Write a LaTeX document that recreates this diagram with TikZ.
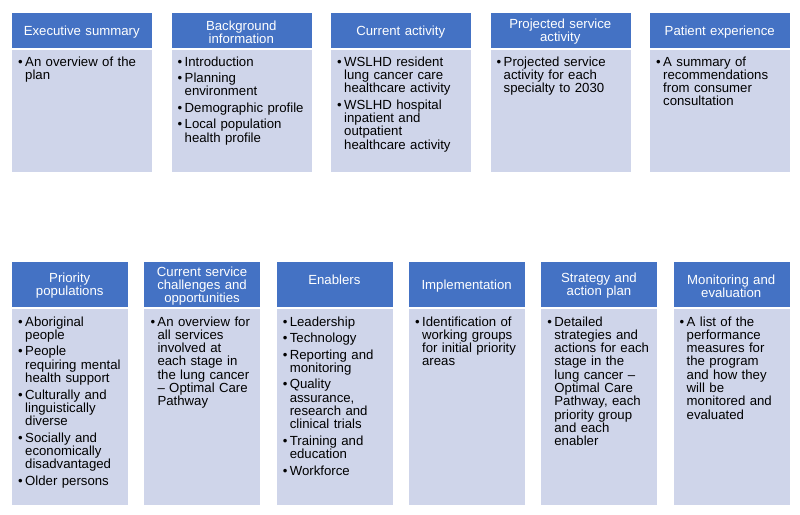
\documentclass[tikz,border=0pt]{standalone}
\usepackage{fontspec}
\setmainfont{Liberation Sans}

\definecolor{headblue}{HTML}{4472C4}
\definecolor{bodyblue}{HTML}{CFD5EA}

% one bullet point, its lines indented under the first
\newcommand{\bitem}[1]{\par\noindent\makebox[9pt][l]{\hspace{2pt}\textbullet}%
    \parbox[t]{\dimexpr\hsize-9pt\relax}{\lineskiplimit=-\maxdimen\raggedright\strut #1\strut}\par}

\tikzset{
    head/.style={fill=headblue, draw=white, line width=0.5pt, anchor=north west, inner sep=0pt},
    headtext/.style={text=white, align=center, inner sep=0pt, font=\fontsize{13.2}{13}\selectfont},
    panel/.style={fill=bodyblue, draw=white, line width=0.5pt, anchor=north west, inner sep=0pt},
    bullets/.style={anchor=north west, inner sep=0pt,
        font=\fontsize{13.2}{13.3}\selectfont,
        execute at begin node={\raggedright\setlength{\parskip}{3pt}\setlength{\lineskip}{0pt}}}
}

\begin{document}
\begin{tikzpicture}[x=1pt,y=-1pt]
    \useasboundingbox (0,0) rectangle (800,514);

    % Top row
    \foreach \i/\head/\items in {
        0/{Executive summary}/{\bitem{An overview of the\\plan}},
        1/{Background\\information}/{\bitem{Introduction}\bitem{Planning\\environment}\bitem{Demographic profile}\bitem{Local population\\health profile}},
        2/{Current activity}/{\bitem{WSLHD resident\\lung cancer care\\healthcare activity}\bitem{WSLHD hospital\\inpatient and\\outpatient\\healthcare activity}},
        3/{Projected service\\activity}/{\bitem{Projected service\\activity for each\\specialty to 2030}},
        4/{Patient experience}/{\bitem{A summary of\\recommendations\\from consumer\\consultation}}} {

        \node[head, minimum width=141pt, minimum height=36pt] (th\i) at ({11+159.5*\i}, 12) {};
        \node[headtext, text width=141pt] (thl\i) at ([yshift=-1.7pt]th\i.center) {\head};
        \node[panel, minimum width=141pt, minimum height=123pt] (tb\i) at (th\i.south west) {};
        \node[bullets, text width=134pt] (tt\i) at ([xshift=5pt,yshift=-1pt]tb\i.north west) {\items};
    }

    % Bottom row
    \foreach \i/\head/\items in {
        0/{Priority\\populations}/{\bitem{Aboriginal\\people}\bitem{People\\requiring mental\\health support}\bitem{Culturally and\\linguistically\\diverse}\bitem{Socially and\\economically\\disadvantaged}\bitem{Older persons}},
        1/{Current service\\challenges and\\opportunities}/{\bitem{An overview for\\all services\\involved at\\each stage in\\the lung cancer\\– Optimal Care\\Pathway}},
        2/{Enablers\\\mbox{}}/{\bitem{Leadership}\bitem{Technology}\bitem{Reporting and\\monitoring}\bitem{Quality\\assurance,\\research and\\clinical trials}\bitem{Training and\\education}\bitem{Workforce}},
        3/{Implementation}/{\bitem{Identification of\\working groups\\for initial priority\\areas}},
        4/{Strategy and\\action plan}/{\bitem{Detailed\\strategies and\\actions for each\\stage in the\\lung cancer –\\Optimal Care\\Pathway, each\\priority group\\and each\\enabler}},
        5/{Monitoring and\\evaluation}/{\bitem{A list of the\\performance\\measures for\\the program\\and how they\\will be\\monitored and\\evaluated}}} {

        \node[head, minimum width=117pt, minimum height=46pt] (bh\i) at ({11+132.3*\i}, 261) {};
        \node[headtext, text width=117pt] (bhl\i) at ([yshift=-1.7pt]bh\i.center) {\head};
        \node[panel, minimum width=117pt, minimum height=197pt] (bb\i) at (bh\i.south west) {};
        \node[bullets, text width=112pt] (bt\i) at ([xshift=5pt,yshift=-2pt]bb\i.north west) {\items};
    }

\end{tikzpicture}
\end{document}
